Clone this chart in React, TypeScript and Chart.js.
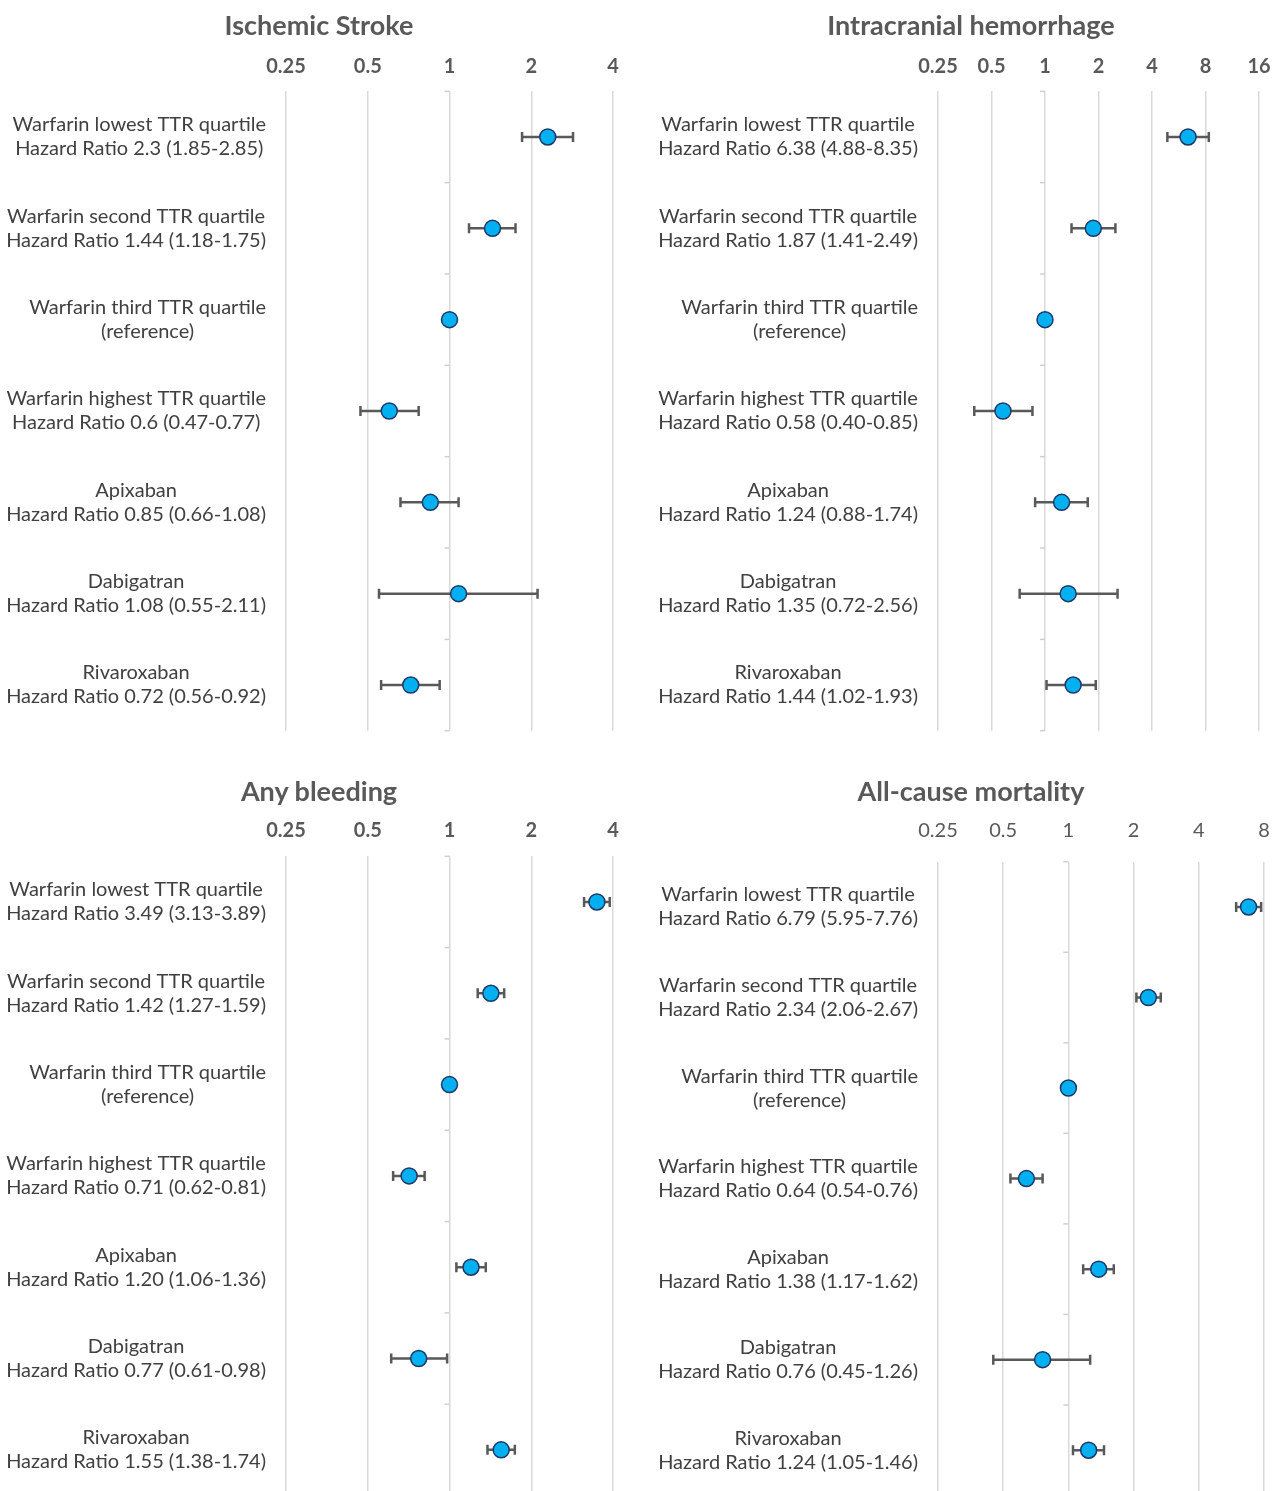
import React, { useEffect, useRef } from "react";
import { Chart, registerables } from "chart.js";

Chart.register(...registerables);

const FONT = "Lato, 'Open Sans', sans-serif";

const categories = [
  "Warfarin lowest TTR quartile",
  "Warfarin second TTR quartile",
  "Warfarin third TTR quartile",
  "Warfarin highest TTR quartile",
  "Apixaban",
  "Dabigatran",
  "Rivaroxaban",
];

// Ischemic Stroke
const strokeHR = [2.3, 1.44, 1, 0.6, 0.85, 1.08, 0.72];
const strokeLo = [1.85, 1.18, null, 0.47, 0.66, 0.55, 0.56];
const strokeHi = [2.85, 1.75, null, 0.77, 1.08, 2.11, 0.92];
const strokeText = [
  "Hazard Ratio 2.3 (1.85-2.85)",
  "Hazard Ratio 1.44 (1.18-1.75)",
  "(reference)",
  "Hazard Ratio 0.6 (0.47-0.77)",
  "Hazard Ratio 0.85 (0.66-1.08)",
  "Hazard Ratio 1.08 (0.55-2.11)",
  "Hazard Ratio 0.72 (0.56-0.92)",
];
const strokeTicks = [0.25, 0.5, 1, 2, 4];

// Intracranial hemorrhage
const ichHR = [6.38, 1.87, 1, 0.58, 1.24, 1.35, 1.44];
const ichLo = [4.88, 1.41, null, 0.4, 0.88, 0.72, 1.02];
const ichHi = [8.35, 2.49, null, 0.85, 1.74, 2.56, 1.93];
const ichText = [
  "Hazard Ratio 6.38 (4.88-8.35)",
  "Hazard Ratio 1.87 (1.41-2.49)",
  "(reference)",
  "Hazard Ratio 0.58 (0.40-0.85)",
  "Hazard Ratio 1.24 (0.88-1.74)",
  "Hazard Ratio 1.35 (0.72-2.56)",
  "Hazard Ratio 1.44 (1.02-1.93)",
];
const ichTicks = [0.25, 0.5, 1, 2, 4, 8, 16];

// Any bleeding
const bleedHR = [3.49, 1.42, 1, 0.71, 1.2, 0.77, 1.55];
const bleedLo = [3.13, 1.27, null, 0.62, 1.06, 0.61, 1.38];
const bleedHi = [3.89, 1.59, null, 0.81, 1.36, 0.98, 1.74];
const bleedText = [
  "Hazard Ratio 3.49 (3.13-3.89)",
  "Hazard Ratio 1.42 (1.27-1.59)",
  "(reference)",
  "Hazard Ratio 0.71 (0.62-0.81)",
  "Hazard Ratio 1.20 (1.06-1.36)",
  "Hazard Ratio 0.77 (0.61-0.98)",
  "Hazard Ratio 1.55 (1.38-1.74)",
];
const bleedTicks = [0.25, 0.5, 1, 2, 4];

// All-cause mortality
const mortHR = [6.79, 2.34, 1, 0.64, 1.38, 0.76, 1.24];
const mortLo = [5.95, 2.06, null, 0.54, 1.17, 0.45, 1.05];
const mortHi = [7.76, 2.67, null, 0.76, 1.62, 1.26, 1.46];
const mortText = [
  "Hazard Ratio 6.79 (5.95-7.76)",
  "Hazard Ratio 2.34 (2.06-2.67)",
  "(reference)",
  "Hazard Ratio 0.64 (0.54-0.76)",
  "Hazard Ratio 1.38 (1.17-1.62)",
  "Hazard Ratio 0.76 (0.45-1.26)",
  "Hazard Ratio 1.24 (1.05-1.46)",
];
const mortTicks = [0.25, 0.5, 1, 2, 4, 8];

type Panel = {
  title: string;
  hr: number[];
  lo: (number | null)[];
  hi: (number | null)[];
  text: string[];
  ticks: number[];
  tickBold: boolean;
  left: number;
  top: number;
  width: number;
  height: number;
  padR: number;
  padB: number;
  titleX: number;
  titleY: number;
  xAxisH: number;
  xTickPad: number;
  yAxisW: number;
};

const panels: Panel[] = [
  {
    title: "Ischemic Stroke", hr: strokeHR, lo: strokeLo, hi: strokeHi, text: strokeText, ticks: strokeTicks, tickBold: true,
    left: 0, top: 0, width: 640, height: 745, padR: 27, padB: 14.3,
    titleX: 319, titleY: 25, xAxisH: 91.3, xTickPad: 12.3, yAxisW: 286,
  },
  {
    title: "Intracranial hemorrhage", hr: ichHR, lo: ichLo, hi: ichHi, text: ichText, ticks: ichTicks, tickBold: true,
    left: 640, top: 0, width: 634, height: 745, padR: 15, padB: 14.3,
    titleX: 971, titleY: 25, xAxisH: 91.3, xTickPad: 12.3, yAxisW: 298,
  },
  {
    title: "Any bleeding", hr: bleedHR, lo: bleedLo, hi: bleedHi, text: bleedText, ticks: bleedTicks, tickBold: true,
    left: 0, top: 760, width: 640, height: 745, padR: 27, padB: 9.3,
    titleX: 319, titleY: 791, xAxisH: 96.3, xTickPad: 13.3, yAxisW: 286,
  },
  {
    title: "All-cause mortality", hr: mortHR, lo: mortLo, hi: mortHi, text: mortText, ticks: mortTicks, tickBold: false,
    left: 640, top: 760, width: 634, height: 745, padR: 10, padB: 8.7,
    titleX: 971, titleY: 791, xAxisH: 101.7, xTickPad: 18.7, yAxisW: 298,
  },
];

function ForestPanel({ p }: { p: Panel }) {
  const ref = useRef<HTMLCanvasElement | null>(null);
  useEffect(() => {
    if (!ref.current) return;
    const forestDecor = {
      id: "forestDecor",
      beforeDatasetsDraw(chart: any) {
        const ctx = chart.ctx;
        const xs = chart.scales.x;
        const ys = chart.scales.y;
        ctx.save();
        // small category tick marks on the vertical axis crossing at 1
        const x1 = xs.getPixelForValue(1);
        ctx.strokeStyle = "#d0d0d0";
        ctx.lineWidth = 1.5;
        for (let k = 0; k <= p.hr.length; k++) {
          const y = ys.getPixelForValue(k - 0.5);
          ctx.beginPath();
          ctx.moveTo(x1 - 5, y);
          ctx.lineTo(x1, y);
          ctx.stroke();
        }
        // error bars with caps
        ctx.strokeStyle = "#595959";
        ctx.lineWidth = 2.5;
        p.hr.forEach((_, i) => {
          const lo = p.lo[i];
          const hi = p.hi[i];
          if (lo == null || hi == null) return;
          const xa = xs.getPixelForValue(lo);
          const xb = xs.getPixelForValue(hi);
          const y = ys.getPixelForValue(i);
          ctx.beginPath();
          ctx.moveTo(xa, y);
          ctx.lineTo(xb, y);
          ctx.moveTo(xa, y - 5);
          ctx.lineTo(xa, y + 5);
          ctx.moveTo(xb, y - 5);
          ctx.lineTo(xb, y + 5);
          ctx.stroke();
        });
        // category labels: block right-aligned to the axis, lines centred within the block
        ctx.font = `400 20px ${FONT}`;
        ctx.fillStyle = "#404040";
        ctx.textAlign = "center";
        ctx.textBaseline = "middle";
        const right = ys.right - 20;
        p.hr.forEach((_, i) => {
          const y = ys.getPixelForValue(i);
          const l1 = categories[i];
          const l2 = p.text[i];
          const w = Math.max(ctx.measureText(l1).width, ctx.measureText(l2).width);
          const cx = right - w / 2;
          ctx.fillText(l1, cx, y - 12);
          ctx.fillText(l2, cx, y + 12);
        });
        ctx.restore();
      },
    };
    const chart = new Chart(ref.current, {
      type: "scatter",
      data: {
        datasets: [
          {
            data: p.hr.map((v, i) => ({ x: v, y: i })),
            pointRadius: 8,
            pointHoverRadius: 8,
            backgroundColor: "#00B0F0",
            borderColor: "#1F3864",
            borderWidth: 1.5,
          },
        ],
      },
      options: {
        responsive: false,
        animation: false,
        layout: { padding: { left: 0, right: p.padR, top: 0, bottom: p.padB } },
        plugins: {
          legend: { display: false },
          tooltip: { enabled: false },
          title: { display: false },
        },
        scales: {
          x: {
            type: "logarithmic",
            position: "top",
            min: p.ticks[0],
            max: p.ticks[p.ticks.length - 1],
            afterBuildTicks: (axis: any) => {
              axis.ticks = p.ticks.map((v) => ({ value: v }));
            },
            afterFit: (axis: any) => {
              axis.height = p.xAxisH;
              axis.paddingLeft = 0;
              axis.paddingRight = 0;
            },
            grid: { color: "#d9d9d9", lineWidth: 1.5, drawTicks: false },
            border: { display: false },
            ticks: {
              autoSkip: false,
              maxRotation: 0,
              minRotation: 0,
              padding: p.xTickPad,
              color: "#595959",
              font: { family: FONT, size: 20, weight: p.tickBold ? "bold" : "normal", lineHeight: 1.2 },
              callback: (v: any) => String(v),
            },
          },
          y: {
            type: "linear",
            min: -0.5,
            max: 6.5,
            reverse: true,
            afterBuildTicks: (axis: any) => {
              axis.ticks = p.hr.map((_, i) => ({ value: i }));
            },
            afterFit: (axis: any) => {
              axis.width = p.yAxisW;
              axis.paddingTop = 0;
              axis.paddingBottom = 0;
            },
            grid: { display: false, drawTicks: false },
            border: { display: false },
            ticks: { display: false },
          },
        },
      },
      plugins: [forestDecor],
    } as any);
    return () => chart.destroy();
  }, [p]);
  return (
    <>
      <div style={{ position: "absolute", left: p.left, top: p.top, width: p.width, height: p.height }}>
        <canvas ref={ref} width={p.width} height={p.height} style={{ width: p.width, height: p.height, display: "block" }} />
      </div>
      <div
        style={{
          position: "absolute",
          left: p.titleX - 300,
          width: 600,
          top: p.titleY - 17,
          height: 34,
          lineHeight: "34px",
          textAlign: "center",
          fontFamily: FONT,
          fontWeight: 700,
          fontSize: 27,
          color: "#595959",
          whiteSpace: "nowrap",
        }}
      >
        {p.title}
      </div>
    </>
  );
}

export default function App() {
  return (
    <div
      style={{
        position: "absolute",
        left: 0,
        top: 0,
        width: 1274,
        height: 1491,
        overflow: "hidden",
        background: "#ffffff",
      }}
    >
      {panels.map((p) => (
        <ForestPanel key={p.title} p={p} />
      ))}
    </div>
  );
}
